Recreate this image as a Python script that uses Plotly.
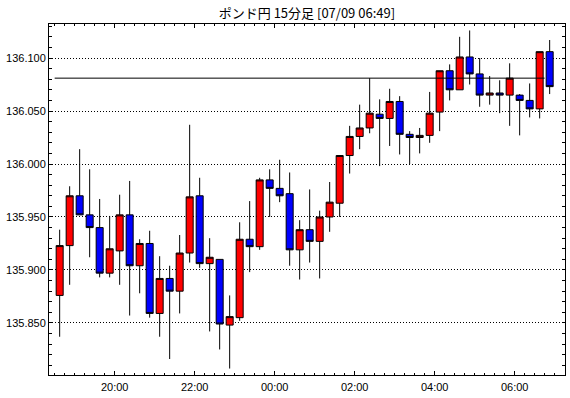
import pandas as pd
import plotly.graph_objects as go

# 15-minute bars, first bar starts 07/08 18:30, last bar 07/09 06:45
bar_start = pd.date_range("2024-07-08 18:30", periods=50, freq="15min")

opens = [135.876, 135.923, 135.970, 135.952, 135.940, 135.897, 135.918, 135.952, 135.904, 135.925,
         135.859, 135.892, 135.880, 135.916, 135.970, 135.906, 135.910, 135.848, 135.855, 135.929,
         135.922, 135.985, 135.977, 135.972, 135.919, 135.938, 135.927, 135.950, 135.963, 136.008,
         136.026, 136.034, 136.047, 136.043, 136.059, 136.028, 136.025, 136.027, 136.049, 136.088,
         136.070, 136.101, 136.085, 136.065, 136.067, 136.065, 136.065, 136.060, 136.052, 136.106]
highs = [135.938, 135.979, 136.014, 135.995, 135.967, 135.951, 135.971, 135.984, 135.929, 135.937,
         135.913, 135.904, 135.933, 136.037, 135.987, 135.930, 135.910, 135.876, 135.945, 135.965,
         135.987, 135.995, 136.004, 135.992, 135.947, 135.976, 135.956, 135.983, 136.008, 136.036,
         136.056, 136.081, 136.061, 136.071, 136.064, 136.031, 136.034, 136.068, 136.088, 136.094,
         136.120, 136.126, 136.100, 136.083, 136.079, 136.095, 136.066, 136.076, 136.106, 136.117]
lows = [135.837, 135.886, 135.952, 135.912, 135.893, 135.893, 135.886, 135.857, 135.878, 135.855,
        135.837, 135.816, 135.859, 135.907, 135.902, 135.842, 135.825, 135.807, 135.852, 135.898,
        135.919, 135.950, 135.964, 135.904, 135.891, 135.907, 135.892, 135.936, 135.950, 135.991,
        136.014, 136.029, 135.998, 136.017, 136.009, 136.000, 136.010, 136.020, 136.031, 136.060,
        136.070, 136.075, 136.054, 136.056, 136.048, 136.036, 136.027, 136.044, 136.043, 136.066]
closes = [135.923, 135.970, 135.952, 135.940, 135.897, 135.920, 135.952, 135.904, 135.925, 135.859,
          135.892, 135.880, 135.916, 135.969, 135.906, 135.912, 135.849, 135.856, 135.929, 135.922,
          135.985, 135.977, 135.970, 135.919, 135.938, 135.927, 135.950, 135.964, 136.008, 136.026,
          136.034, 136.048, 136.043, 136.059, 136.028, 136.025, 136.027, 136.048, 136.088, 136.070,
          136.101, 136.085, 136.065, 136.067, 136.065, 136.081, 136.060, 136.052, 136.106, 136.073]

ref_level = 136.081
title_text = "ポンド円 15分足 [07/09 06:49]"

x_center = bar_start + pd.Timedelta(minutes=7.5)

fig = go.Figure()
fig.add_trace(go.Candlestick(
    x=x_center, open=opens, high=highs, low=lows, close=closes,
    increasing=dict(line=dict(color="black", width=1), fillcolor="#ff0000"),
    decreasing=dict(line=dict(color="black", width=1), fillcolor="#0000ff"),
    whiskerwidth=0, hoverinfo="skip", showlegend=False,
))

fig.add_shape(type="line", xref="x", yref="y",
              x0=bar_start[0], x1=bar_start[-1], y0=ref_level, y1=ref_level,
              line=dict(color="black", width=1))

font = "Liberation Sans, Arial, Noto Sans CJK JP, sans-serif"

fig.update_layout(
    width=570, height=398,
    margin=dict(l=49, r=5, t=24, b=23),
    paper_bgcolor="white", plot_bgcolor="white",
    boxgap=0.3, boxgroupgap=0.0,
    title=dict(text=title_text, x=0.5385, xanchor="center", y=1 - 13.5 / 398, yanchor="middle",
               font=dict(family="Noto Sans CJK JP, Liberation Sans, sans-serif", size=13, color="black")),
    font=dict(family=font, size=11, color="black"),
    xaxis=dict(
        type="date", automargin=False,
        range=["2024-07-08 18:21:30", "2024-07-09 07:15:30"],
        rangeslider=dict(visible=False),
        tick0="2024-07-08 20:00", dtick=7200000, tickformat="%H:%M",
        ticks="inside", ticklen=4, tickcolor="black", tickwidth=1,
        minor=dict(tick0="2024-07-08 20:00", dtick=900000, ticks="inside", ticklen=2,
                   tickcolor="black", showgrid=False),
        showline=True, linecolor="black", linewidth=1, mirror="allticks",
        showgrid=False, zeroline=False, ticklabelstandoff=2,
        tickfont=dict(family=font, size=11, color="black"),
    ),
    yaxis=dict(
        automargin=False,
        range=[135.8009, 136.1321],
        tick0=135.85, dtick=0.05, tickformat=".3f",
        ticks="inside", ticklen=3, tickcolor="black", tickwidth=1,
        minor=dict(tick0=135.85, dtick=0.01, ticks="inside", ticklen=3,
                   tickcolor="black", showgrid=False),
        showline=True, linecolor="black", linewidth=1, mirror="allticks",
        showgrid=True, gridcolor="black", gridwidth=1, griddash="1px,2px",
        zeroline=False, ticklabelstandoff=0,
        tickfont=dict(family=font, size=11, color="black"),
    ),
)

fig.write_html("out.html", config={"displayModeBar": False},
               post_script="document.body.style.margin='0';")
